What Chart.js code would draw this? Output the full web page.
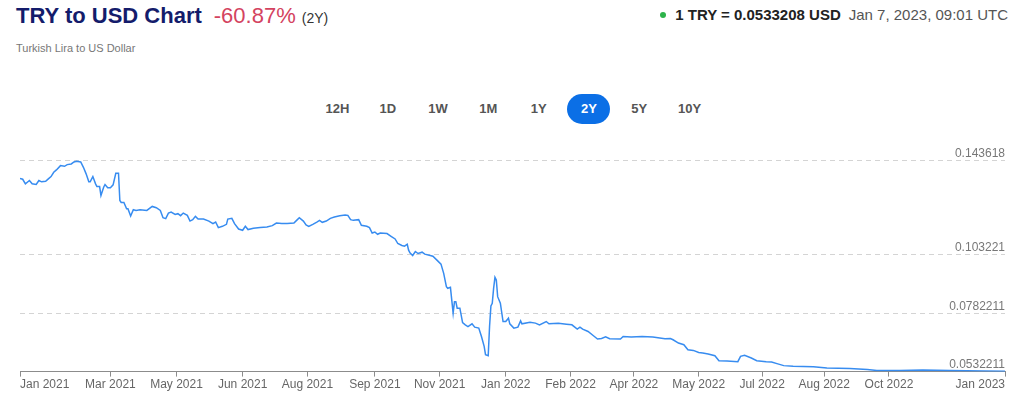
<!DOCTYPE html>
<html>
<head>
<meta charset="utf-8">
<script src="https://cdn.jsdelivr.net/npm/chart.js@4.4.1/dist/chart.umd.min.js"></script>
<style>
  html, body { margin:0; padding:0; background:#fff; }
  body { width:1022px; height:397px; position:relative; overflow:hidden; font-family:"Liberation Sans", Arial, sans-serif; }
  .title { position:absolute; left:16px; top:5px; white-space:nowrap; line-height:22px; }
  .title .t { font-size:22px; font-weight:bold; color:#141c6b; }
  .title .p { font-size:22px; color:#d4435f; margin-left:12px; }
  .title .y { font-size:14px; color:#333; margin-left:6px; }
  .sub { position:absolute; left:16px; top:43px; font-size:11px; line-height:11px; color:#777; white-space:nowrap; }
  .rate { position:absolute; right:14px; top:7px; font-size:15px; line-height:15px; white-space:nowrap; display:flex; align-items:center; }
  .rate .dot { width:6px; height:6px; border-radius:50%; background:#2db34a; margin-right:9px; }
  .rate b { color:#222; }
  .rate .d { color:#555; margin-left:8px; }
  .btns { position:absolute; left:316px; top:94px; display:flex; gap:7.3px; }
  .btns div { width:43px; height:30px; line-height:30px; text-align:center; font-size:13px; font-weight:bold; color:#555; border-radius:15px; }
  .btns div.on { background:#0b6fe6; color:#fff; }
  #c { position:absolute; left:0; top:140px; }
</style>
</head>
<body>
<div class="title"><span class="t">TRY to USD Chart</span><span class="p">-60.87%</span><span class="y">(2Y)</span></div>
<div class="sub">Turkish Lira to US Dollar</div>
<div class="rate"><span class="dot"></span><b>1 TRY = 0.0533208 USD</b><span class="d">Jan 7, 2023, 09:01 UTC</span></div>
<div class="btns"><div>12H</div><div>1D</div><div>1W</div><div>1M</div><div>1Y</div><div class="on">2Y</div><div>5Y</div><div>10Y</div></div>
<canvas id="c" width="1022" height="257"></canvas>
<script>
const dates = [
'2021-01-07','2021-01-09','2021-01-11','2021-01-14','2021-01-16','2021-01-19','2021-01-21','2021-01-23','2021-01-26','2021-01-28','2021-01-30',
'2021-02-01','2021-02-03','2021-02-06','2021-02-09','2021-02-11','2021-02-14','2021-02-16','2021-02-18','2021-02-21','2021-02-23','2021-02-25','2021-02-27','2021-02-28',
'2021-03-02','2021-03-04','2021-03-05','2021-03-07','2021-03-08','2021-03-10','2021-03-11','2021-03-13','2021-03-15','2021-03-17','2021-03-19','2021-03-21','2021-03-22','2021-03-23','2021-03-25','2021-03-27','2021-03-28','2021-03-30',
'2021-04-01','2021-04-03','2021-04-06','2021-04-11','2021-04-15','2021-04-18','2021-04-21','2021-04-23','2021-04-25','2021-04-27','2021-04-29',
'2021-05-02','2021-05-04','2021-05-06','2021-05-08','2021-05-11','2021-05-13','2021-05-15','2021-05-17','2021-05-19','2021-05-23','2021-05-27','2021-05-30',
'2021-06-01','2021-06-03','2021-06-06','2021-06-09','2021-06-10','2021-06-13','2021-06-15','2021-06-18','2021-06-21','2021-06-23','2021-06-25','2021-06-29',
'2021-07-04','2021-07-09','2021-07-13','2021-07-16','2021-07-20','2021-07-24','2021-07-29','2021-07-31',
'2021-08-02','2021-08-05','2021-08-07','2021-08-09','2021-08-12','2021-08-15','2021-08-17','2021-08-19','2021-08-22','2021-08-25','2021-08-28',
'2021-09-01','2021-09-05','2021-09-07','2021-09-09','2021-09-11','2021-09-15','2021-09-17','2021-09-21','2021-09-23','2021-09-25','2021-09-27','2021-09-29',
'2021-10-01','2021-10-06','2021-10-09','2021-10-12','2021-10-14','2021-10-17','2021-10-19','2021-10-21','2021-10-22','2021-10-23','2021-10-25','2021-10-27','2021-10-29',
'2021-11-01','2021-11-03','2021-11-07','2021-11-09','2021-11-12','2021-11-15','2021-11-17','2021-11-19','2021-11-20','2021-11-22','2021-11-24','2021-11-25','2021-11-26','2021-11-27','2021-11-29',
'2021-12-01','2021-12-03','2021-12-05','2021-12-08','2021-12-10','2021-12-13','2021-12-15','2021-12-17','2021-12-18','2021-12-20','2021-12-21','2021-12-22','2021-12-23','2021-12-24','2021-12-25','2021-12-26','2021-12-27','2021-12-29','2021-12-31',
'2022-01-02','2022-01-04','2022-01-05','2022-01-08','2022-01-11','2022-01-13','2022-01-14','2022-01-20','2022-01-24','2022-01-27',
'2022-02-01','2022-02-03','2022-02-10','2022-02-16','2022-02-20','2022-02-24','2022-02-26','2022-02-28',
'2022-03-04','2022-03-08','2022-03-11','2022-03-14','2022-03-17','2022-03-20','2022-03-28','2022-03-30',
'2022-04-05','2022-04-13','2022-04-21','2022-04-30',
'2022-05-04','2022-05-06','2022-05-10','2022-05-14','2022-05-17','2022-05-21','2022-05-25','2022-05-28',
'2022-06-01','2022-06-06','2022-06-09','2022-06-15','2022-06-23','2022-06-25','2022-06-28',
'2022-07-03','2022-07-07','2022-07-14','2022-07-18','2022-07-22','2022-07-27',
'2022-08-03','2022-08-18','2022-08-28',
'2022-09-14','2022-09-27',
'2022-10-04','2022-10-21',
'2022-11-07','2022-11-27',
'2022-12-22','2023-01-07'
];
const rates = [
0.13594,0.13564,0.13368,0.13509,0.13368,0.13338,0.13509,0.13453,0.13479,0.13581,0.13679,
0.13863,0.13965,0.14148,0.14119,0.14191,0.14221,0.14306,0.14332,0.14306,0.14076,0.13795,0.13453,0.13453,
0.13679,0.13368,0.13253,0.13253,0.12869,0.13223,0.13338,0.13198,0.13198,0.13325,0.1382,0.1382,0.12656,0.12571,0.12571,0.12302,0.12302,0.11987,
0.1226,0.1223,0.1226,0.1223,0.124,0.12345,0.1223,0.11918,0.11876,0.12115,0.12157,
0.12059,0.12089,0.12004,0.12115,0.12016,0.11773,0.11833,0.11974,0.11859,0.11859,0.11773,0.11663,
0.11731,0.11492,0.11547,0.11633,0.11859,0.11889,0.11663,0.11432,0.11377,0.11547,0.11407,0.11462,
0.11492,0.11518,0.11577,0.11688,0.11663,0.11663,0.11688,0.11803,
0.11918,0.11773,0.11603,0.11547,0.11633,0.11731,0.11803,0.11718,0.11773,0.11889,0.11944,
0.12004,0.12029,0.12016,0.11833,0.11803,0.11833,0.1159,0.11547,0.11492,0.11262,0.11304,0.11206,
0.11262,0.11236,0.11121,0.11006,0.1081,0.10724,0.10695,0.1078,0.10524,0.10409,0.10298,0.10469,0.10383,
0.10439,0.10354,0.10298,0.10268,0.10098,0.09927,0.09531,0.08959,0.08891,0.08934,0.07825,0.0832,0.0832,0.08038,0.08038,
0.07424,0.07326,0.07254,0.07369,0.07228,0.07185,0.06827,0.06401,0.06047,0.06004,0.07254,0.08136,0.08251,0.08891,0.0936,0.09245,0.08533,0.08251,0.07467,
0.07467,0.07612,0.07369,0.07185,0.07228,0.07497,0.07369,0.07441,0.07399,0.07326,
0.07467,0.07369,0.07399,0.07356,0.07326,0.07143,0.07228,0.07143,
0.0704,0.06857,0.06716,0.06742,0.06814,0.06729,0.06716,0.06827,
0.06802,0.06827,0.06802,0.06729,
0.06742,0.06686,0.06546,0.06473,0.0626,0.0623,0.06145,0.06119,
0.06077,0.06004,0.05791,0.05778,0.05748,0.05974,0.06017,
0.05906,0.05791,0.05748,0.05736,0.05663,0.05578,
0.05548,0.05535,0.0548,
0.0545,0.05407,
0.05365,0.05365,
0.05394,0.05365,
0.05352,0.0533208
];
const xTickDates = ['2021-01-07','2021-03-15','2021-05-03','2021-06-21','2021-08-08','2021-09-27','2021-11-14','2022-01-02','2022-02-19','2022-04-07','2022-05-25','2022-07-11','2022-08-26','2022-10-13','2023-01-07'];
const xTickLabels = ['Jan 2021','Mar 2021','May 2021','Jun 2021','Aug 2021','Sep 2021','Nov 2021','Jan 2022','Feb 2022','Apr 2022','May 2022','Jul 2022','Aug 2022','Oct 2022','Jan 2023'];
const yTickValues = [0.0532211, 0.0782211, 0.103221, 0.143618];
const yTickLabels = ['0.0532211', '0.0782211', '0.103221', '0.143618'];

const startMs = Date.parse(dates[0] + 'T00:00:00Z');
const dayOf = s => Math.round((Date.parse(s + 'T00:00:00Z') - startMs) / 86400000);
const points = dates.map((d, i) => ({ x: dayOf(d), y: rates[i] }));

new Chart(document.getElementById('c'), {
  type: 'line',
  data: { datasets: [{ data: points, borderColor: 'rgb(55,140,240)', borderWidth: 1.5, pointRadius: 0, fill: false, tension: 0 }] },
  options: {
    responsive: false, animation: false, devicePixelRatio: 1,
    layout: { padding: { left: 20, right: 17, top: 10, bottom: 4 } },
    plugins: { legend: { display: false }, tooltip: { enabled: false } },
    font: { family: '"Liberation Sans", Arial, sans-serif' },
    scales: {
      x: {
        type: 'linear', bounds: 'data', min: 0, max: dayOf(xTickDates[xTickDates.length - 1]),
        afterBuildTicks: s => { s.ticks = xTickDates.map(d => ({ value: dayOf(d) })); },
        grid: { drawOnChartArea: false, drawTicks: true, tickLength: 5, color: '#8c8c8c', lineWidth: 1 },
        border: { display: true, color: '#8c8c8c', width: 1 },
        ticks: { align: 'inner', autoSkip: false, maxRotation: 0, minRotation: 0, padding: 1, color: '#666',
          font: { size: 12, family: '"Liberation Sans", Arial, sans-serif' },
          callback: (v, i) => xTickLabels[i] }
      },
      y: {
        type: 'linear', position: 'right', bounds: 'data', min: 0.0532211, max: 0.148176,
        afterBuildTicks: s => { s.ticks = yTickValues.map(v => ({ value: v })); },
        grid: { drawTicks: false, color: '#d4d4d4', lineWidth: 1 },
        border: { display: false, dash: [5, 4] },
        ticks: { mirror: true, padding: 0, labelOffset: -7, color: '#777', crossAlign: 'near',
          font: { size: 12, family: '"Liberation Sans", Arial, sans-serif' },
          callback: (v, i) => yTickLabels[i] }
      }
    }
  }
});
</script>
</body>
</html>
